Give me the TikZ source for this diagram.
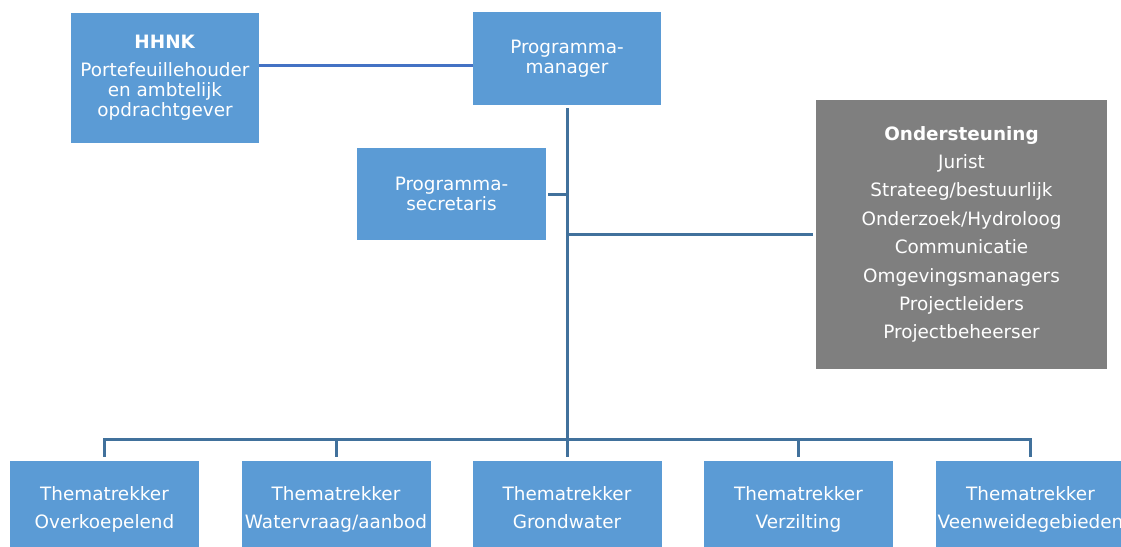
\documentclass[tikz,border=0pt]{standalone}
\usepackage{fontspec}
\setmainfont{DejaVu Sans}
\definecolor{boxblue}{HTML}{5B9BD5}
\definecolor{boxgray}{HTML}{7F7F7F}
\definecolor{linkblue}{HTML}{41719C}
\definecolor{toplink}{HTML}{4472C4}
\begin{document}
\begin{tikzpicture}[x=1pt,y=-1pt,
  orgbox/.style={fill=boxblue, text=white, inner sep=0pt, align=center,
    minimum width=189pt, minimum height=93pt, font=\fontsize{18.4}{20}\selectfont},
  wide/.style={font=\fontsize{18.4}{28.4}\selectfont},
  conn/.style={draw=linkblue, line width=3pt}]
\useasboundingbox (0,0) rectangle (1121,546);
\fill[white] (0,0) rectangle (1121,546);
\node[orgbox, minimum width=188pt, minimum height=130pt] (hhnk) at (165,78)
  {\textbf{HHNK}\\[8pt]Portefeuillehouder\\en ambtelijk\\opdrachtgever};
\node[orgbox, minimum width=188pt] (pm) at (567,58.5) {Programma-\\manager};
\node[orgbox, minimum height=92pt] (sec) at (451.5,194) {Programma-\\secretaris};
\node[orgbox, wide, fill=boxgray, minimum width=291pt, minimum height=269pt] (ond) at (961.5,234.5)
  {\textbf{Ondersteuning}\\Jurist\\Strateeg/bestuurlijk\\Onderzoek/Hydroloog\\Communicatie\\Omgevingsmanagers\\Projectleiders\\Projectbeheerser};
\node[orgbox, wide, minimum height=97pt] (t1) at (104.5,509.5) {Thematrekker\\Overkoepelend};
\node[orgbox, wide, minimum height=97pt] (t2) at (336,509.5) {Thematrekker\\Watervraag/aanbod};
\node[orgbox, wide, minimum height=97pt] (t3) at (567,509.5) {Thematrekker\\Grondwater\vphantom{g}};
\node[orgbox, wide, minimum height=97pt] (t4) at (798.5,509.5) {Thematrekker\\Verzilting};
\node[orgbox, wide, minimum height=97pt] (t5) at (1030.5,509.5) {Thematrekker\\Veenweidegebieden};
\coordinate (bus) at (0,439);
\coordinate (toprow) at (0,65);
\coordinate (secrow) at (0,194);
\coordinate (ondrow) at (0,234);
% connectors
\draw[draw=toplink, line width=3pt] (hhnk.east |- toprow) -- (pm.west |- toprow);
\draw[conn] ([yshift=-3pt]pm.south) -- ([yshift=4pt]t3.north);
\draw[conn] ([xshift=2pt]sec.east |- secrow) -- (pm.south |- secrow);
\draw[conn] (pm.south |- ondrow) -- ([xshift=-3pt]ond.west |- ondrow);
\draw[conn] ([yshift=4pt]t1.north) -- (t1.north |- bus) -- (t5.north |- bus) -- ([yshift=4pt]t5.north);
\draw[conn] (t2.north |- bus) -- ([yshift=4pt]t2.north);
\draw[conn] (t4.north |- bus) -- ([yshift=4pt]t4.north);
\end{tikzpicture}
\end{document}
